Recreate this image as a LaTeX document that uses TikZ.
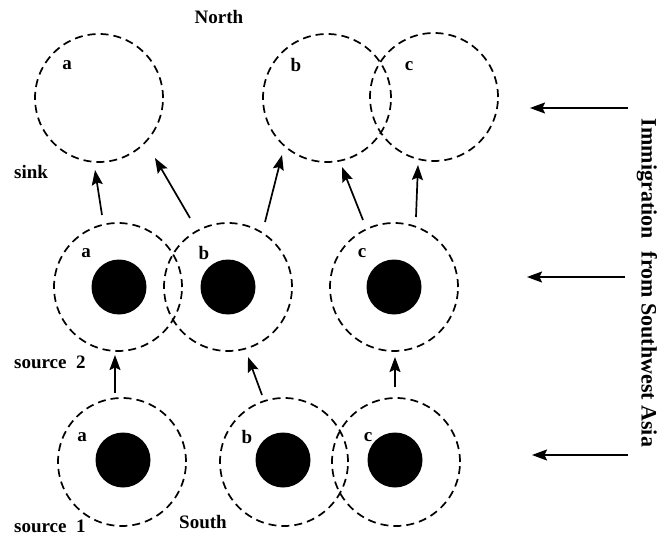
\documentclass[tikz,border=0pt]{standalone}
\usepackage{fontspec}
\setmainfont{Liberation Serif}
\usetikzlibrary{arrows.meta}
\begin{document}
\begin{tikzpicture}[x=1pt,y=-1pt,
  ring/.style={circle,draw,line width=1.7pt,dash pattern=on 8pt off 5pt,minimum size=128pt,inner sep=0pt},
  dot/.style={circle,fill=black,minimum size=55pt,inner sep=0pt},
  lbl/.style={font=\fontsize{19pt}{21pt}\selectfont\bfseries,inner sep=0pt},
  arr/.style={line width=1.7pt,-{Stealth[length=15pt,width=11pt,inset=2.5pt]}}]
\useasboundingbox (0,0) rectangle (665,538);
% sink row
\node[ring] (sa) at (99,98) {};
\node[ring] (sb) at (327,98) {};
\node[ring] (sc) at (434,97) {};
% source 2 row
\node[ring] (ma) at (118,287) {};
\node[ring] (mb) at (228,287) {};
\node[ring] (mc) at (394,287) {};
\node[dot] (mad) at (119,287) {};
\node[dot] (mbd) at (228,287) {};
\node[dot] (mcd) at (394,287) {};
% source 1 row
\node[ring] (ba) at (122,462) {};
\node[ring] (bb) at (284,462) {};
\node[ring] (bc) at (396,462) {};
\node[dot] (bad) at (123,460) {};
\node[dot] (bbd) at (283,460) {};
\node[dot] (bcd) at (395,460) {};
% circle labels
\node[lbl] (la1) at (67,65) {a};
\node[lbl] (lb1) at (296,65) {b};
\node[lbl] (lc1) at (409,66) {c};
\node[lbl] (la2) at (86,253) {a};
\node[lbl] (lb2) at (204,253) {b};
\node[lbl] (lc2) at (362,253) {c};
\node[lbl] (la3) at (82,437) {a};
\node[lbl] (lb3) at (247,437) {b};
\node[lbl] (lc3) at (368,437) {c};
% other texts
\node[lbl] (north) at (219,17) {North};
\node[lbl] (south) at (203,522) {South};
\node[lbl,anchor=west] (sink) at (14,172) {sink};
\node[lbl,anchor=west] (src2) at (14,362) {source\ \ 2};
\node[lbl,anchor=west] (src1) at (14,526) {source\ \ 1};
\node[font=\fontsize{22pt}{24pt}\selectfont\bfseries,inner sep=0pt,rotate=-90] (imm) at (647,283) {Immigration\hspace{0.6em}from Southwest Asia};
% arrow end points
\coordinate (m1a) at (102,215); \coordinate (s1a) at (95,170);
\coordinate (m1b) at (190,218); \coordinate (s1b) at (155,158);
\coordinate (m1c) at (265,222); \coordinate (s1c) at (282,155);
\coordinate (m1d) at (363,220); \coordinate (s1d) at (342,167);
\coordinate (m1e) at (416,217); \coordinate (s1e) at (418,165);
\coordinate (b2a) at (115,393); \coordinate (m2a) at (115,355);
\coordinate (b2b) at (262,395); \coordinate (m2b) at (248,357);
\coordinate (b2c) at (395,387); \coordinate (m2c) at (395,357);
\coordinate (i1) at (628,108); \coordinate (j1) at (530,108);
\coordinate (i2) at (625,277); \coordinate (j2) at (527,277);
\coordinate (i3) at (628,455); \coordinate (j3) at (532,455);
% arrows
\draw[arr] (m1a) -- (s1a);
\draw[arr] (m1b) -- (s1b);
\draw[arr] (m1c) -- (s1c);
\draw[arr] (m1d) -- (s1d);
\draw[arr] (m1e) -- (s1e);
\draw[arr] (b2a) -- (m2a);
\draw[arr] (b2b) -- (m2b);
\draw[arr] (b2c) -- (m2c);
\draw[arr] (i1) -- (j1);
\draw[arr] (i2) -- (j2);
\draw[arr] (i3) -- (j3);
\end{tikzpicture}
\end{document}
